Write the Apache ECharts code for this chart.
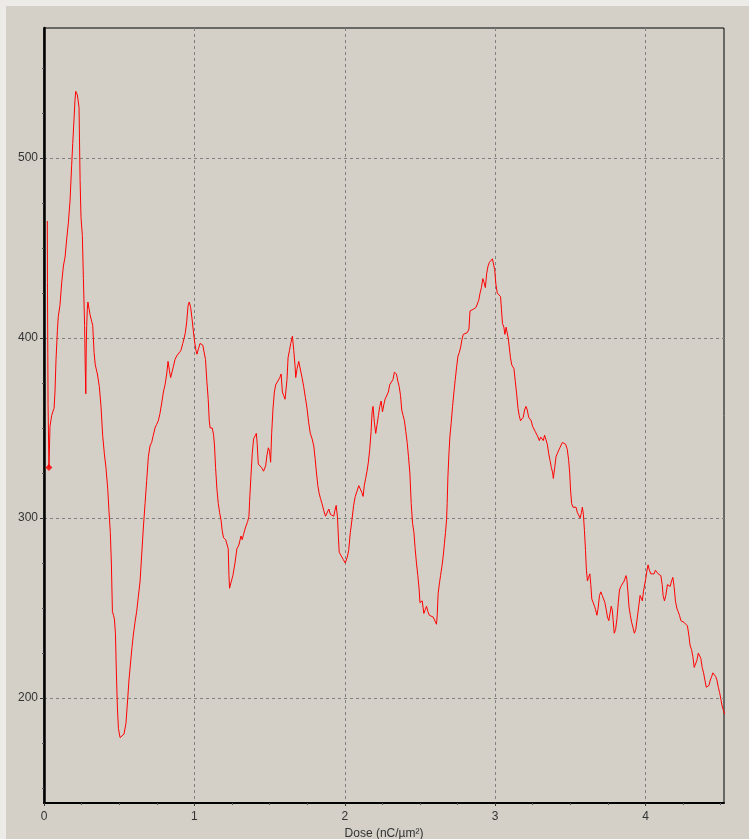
<!DOCTYPE html>
<html>
<head>
<meta charset="utf-8">
<script src="https://cdn.jsdelivr.net/npm/echarts@6/dist/echarts.min.js"></script>
<style>
  html, body { margin: 0; padding: 0; background: #D4D0C8; overflow: hidden; }
  #chart { position: absolute; left: 0; top: 0; width: 749px; height: 839px; }
</style>
</head>
<body>
<div id="chart"></div>
<script>
// Dose axis positions (nC/µm²) of the measured profile
const dose = [
  0.022, 0.023, 0.027, 0.033, 0.040, 0.051, 0.067, 0.073, 0.080, 0.089,
  0.095, 0.106, 0.118, 0.129, 0.140, 0.151, 0.162, 0.173, 0.184, 0.191,
  0.200, 0.206, 0.211, 0.216, 0.222, 0.229, 0.233, 0.237, 0.240, 0.246,
  0.255, 0.262, 0.270, 0.274, 0.278, 0.281, 0.284, 0.288, 0.292, 0.306,
  0.318, 0.324, 0.333, 0.341, 0.355, 0.368, 0.379, 0.390, 0.401, 0.412,
  0.424, 0.432, 0.441, 0.448, 0.455, 0.462, 0.468, 0.475, 0.481, 0.488,
  0.495, 0.506, 0.519, 0.532, 0.545, 0.557, 0.565, 0.576, 0.585, 0.594,
  0.605, 0.616, 0.627, 0.639, 0.650, 0.661, 0.672, 0.683, 0.694, 0.705,
  0.716, 0.727, 0.738, 0.749, 0.760, 0.771, 0.783, 0.794, 0.805, 0.816,
  0.825, 0.834, 0.842, 0.851, 0.860, 0.871, 0.882, 0.895, 0.910, 0.923,
  0.932, 0.940, 0.949, 0.958, 0.966, 0.975, 0.984, 0.993, 1.003, 1.011,
  1.017, 1.027, 1.038, 1.056, 1.065, 1.074, 1.083, 1.092, 1.099, 1.105,
  1.112, 1.119, 1.128, 1.134, 1.141, 1.150, 1.159, 1.168, 1.177, 1.185,
  1.194, 1.208, 1.219, 1.225, 1.230, 1.234, 1.243, 1.256, 1.270, 1.283,
  1.296, 1.310, 1.318, 1.327, 1.341, 1.354, 1.363, 1.367, 1.376, 1.385,
  1.394, 1.403, 1.412, 1.418, 1.425, 1.434, 1.447, 1.460, 1.474, 1.483,
  1.492, 1.500, 1.507, 1.514, 1.523, 1.532, 1.541, 1.554, 1.568, 1.577,
  1.585, 1.594, 1.603, 1.612, 1.616, 1.623, 1.632, 1.641, 1.652, 1.661,
  1.670, 1.674, 1.683, 1.694, 1.705, 1.716, 1.727, 1.738, 1.749, 1.760,
  1.771, 1.783, 1.794, 1.803, 1.812, 1.821, 1.829, 1.838, 1.849, 1.861,
  1.872, 1.883, 1.894, 1.905, 1.916, 1.927, 1.934, 1.943, 1.952, 1.958,
  1.963, 1.976, 1.990, 2.003, 2.016, 2.026, 2.037, 2.048, 2.059, 2.070,
  2.082, 2.093, 2.104, 2.115, 2.122, 2.130, 2.139, 2.148, 2.157, 2.166,
  2.175, 2.182, 2.188, 2.197, 2.206, 2.215, 2.224, 2.233, 2.242, 2.251,
  2.260, 2.268, 2.281, 2.290, 2.299, 2.312, 2.321, 2.330, 2.337, 2.344,
  2.353, 2.362, 2.371, 2.379, 2.388, 2.397, 2.406, 2.415, 2.424, 2.433,
  2.442, 2.451, 2.460, 2.468, 2.477, 2.486, 2.495, 2.500, 2.508, 2.515,
  2.526, 2.535, 2.544, 2.553, 2.562, 2.575, 2.588, 2.599, 2.610, 2.615,
  2.621, 2.630, 2.637, 2.646, 2.655, 2.663, 2.670, 2.677, 2.681, 2.686,
  2.693, 2.699, 2.708, 2.717, 2.726, 2.735, 2.744, 2.753, 2.762, 2.771,
  2.779, 2.788, 2.801, 2.815, 2.826, 2.833, 2.841, 2.855, 2.873, 2.882,
  2.891, 2.900, 2.909, 2.918, 2.926, 2.935, 2.944, 2.953, 2.962, 2.971,
  2.982, 2.990, 2.997, 3.005, 3.014, 3.027, 3.036, 3.042, 3.049, 3.058,
  3.065, 3.073, 3.080, 3.087, 3.094, 3.102, 3.111, 3.125, 3.134, 3.143,
  3.152, 3.160, 3.169, 3.178, 3.187, 3.196, 3.205, 3.214, 3.223, 3.231,
  3.240, 3.249, 3.258, 3.267, 3.276, 3.285, 3.294, 3.303, 3.312, 3.320,
  3.329, 3.338, 3.347, 3.356, 3.365, 3.374, 3.383, 3.387, 3.396, 3.405,
  3.414, 3.425, 3.436, 3.447, 3.458, 3.469, 3.480, 3.489, 3.496, 3.502,
  3.509, 3.518, 3.529, 3.538, 3.547, 3.556, 3.565, 3.574, 3.580, 3.587,
  3.594, 3.601, 3.607, 3.614, 3.621, 3.630, 3.636, 3.643, 3.652, 3.661,
  3.668, 3.677, 3.685, 3.694, 3.703, 3.712, 3.721, 3.730, 3.739, 3.747,
  3.756, 3.765, 3.772, 3.779, 3.785, 3.792, 3.801, 3.810, 3.819, 3.827,
  3.836, 3.847, 3.858, 3.870, 3.876, 3.883, 3.890, 3.899, 3.908, 3.917,
  3.926, 3.935, 3.946, 3.955, 3.964, 3.973, 3.979, 3.986, 3.995, 4.001,
  4.008, 4.017, 4.026, 4.035, 4.046, 4.057, 4.066, 4.075, 4.084, 4.093,
  4.102, 4.111, 4.117, 4.126, 4.135, 4.146, 4.155, 4.164, 4.173, 4.182,
  4.190, 4.199, 4.208, 4.217, 4.226, 4.235, 4.246, 4.257, 4.268, 4.279,
  4.288, 4.297, 4.306, 4.315, 4.324, 4.333, 4.342, 4.351, 4.360, 4.368,
  4.377, 4.386, 4.395, 4.404, 4.413, 4.422, 4.431, 4.440, 4.448, 4.457,
  4.466, 4.475, 4.484, 4.493, 4.502, 4.511, 4.519, 4.527
];

// Measured signal at each dose position
const signal = [
  465, 431, 363, 328, 351, 357, 361, 370, 388, 404,
  412, 418, 431, 440, 445, 455, 464, 476, 496, 508,
  522, 532, 537, 536, 535, 535, 528, 505, 488, 467,
  457, 433, 407, 385, 369, 395, 407, 416, 420, 413,
  409, 407, 392, 385, 380, 373, 362, 346, 336, 328,
  316, 304, 292, 275, 248, 246, 244, 236, 215, 195,
  183, 178, 178, 180, 186, 200, 210, 220, 228, 235,
  242, 248, 256, 265, 280, 295, 308, 321, 334, 340,
  342, 346, 350, 352, 354, 358, 364, 370, 374, 380,
  387, 382, 378, 379, 384, 388, 390, 391, 393, 397,
  400, 403, 409, 418, 420, 417, 411, 404, 397, 393,
  391, 394, 397, 396, 397, 388, 376, 366, 354, 350,
  349, 350, 346, 340, 328, 316, 308, 303, 299, 293,
  289, 288, 287, 283, 268, 261, 264, 268, 275, 283,
  285, 290, 288, 291, 295, 298, 301, 309, 323, 336,
  344, 345, 347, 341, 330, 330, 328, 326, 329, 335,
  339, 337, 331, 347, 361, 370, 374, 375, 378, 380,
  370, 368, 366, 367, 377, 389, 393, 397, 401, 393,
  384, 378, 383, 387, 386, 378, 373, 367, 361, 353,
  347, 344, 340, 333, 325, 318, 314, 311, 308, 304,
  301, 301, 305, 302, 301, 301, 304, 307, 300, 289,
  281, 279, 277, 275, 278, 282, 292, 299, 307, 312,
  315, 318, 318, 314, 312, 318, 322, 326, 331, 338,
  348, 359, 362, 353, 347, 352, 357, 362, 365, 359,
  363, 366, 366, 370, 374, 374, 377, 381, 382, 380,
  376, 373, 368, 360, 357, 354, 348, 342, 334, 325,
  308, 297, 292, 283, 275, 268, 260, 253, 252, 254,
  247, 249, 251, 248, 246, 246, 245, 244, 241, 246,
  258, 264, 268, 273, 279, 286, 292, 299, 308, 323,
  336, 345, 353, 362, 370, 377, 384, 390, 392, 395,
  399, 402, 402, 403, 405, 415, 415, 416, 417, 418,
  421, 425, 428, 433, 431, 428, 436, 440, 442, 443,
  444, 443, 438, 430, 425, 424, 423, 416, 408, 406,
  402, 406, 407, 400, 395, 389, 385, 383, 376, 369,
  361, 357, 354, 353, 356, 360, 362, 360, 356, 355,
  354, 351, 350, 348, 347, 345, 343, 345, 344, 343,
  346, 347, 341, 336, 332, 328, 325, 322, 328, 334,
  336, 338, 340, 342, 343, 341, 338, 332, 325, 315,
  308, 306, 307, 306, 303, 302, 300, 303, 306, 302,
  293, 282, 271, 265, 267, 269, 263, 255, 253, 251,
  249, 246, 250, 257, 259, 257, 256, 253, 249, 245,
  243, 242, 251, 249, 243, 236, 238, 244, 253, 260,
  262, 263, 265, 268, 266, 259, 251, 246, 242, 239,
  236, 238, 245, 251, 257, 258, 254, 259, 260, 266,
  270, 274, 271, 269, 269, 269, 271, 271, 269, 269,
  268, 263, 257, 254, 257, 263, 262, 262, 265, 267,
  262, 254, 250, 248, 246, 243, 242, 242, 241, 240,
  235, 229, 227, 223, 217, 217, 221, 225, 225, 222,
  217, 214, 210, 206, 205, 207, 210, 212, 214, 214,
  212, 210, 206, 203, 199, 195, 193, 191
];

// Highlighted (cursor) point
const cursorPoint = [0.033, 328];

// Axis ranges and tick positions
const doseRange = [0, 4.522];
const signalRange = [141.7, 572.2];
const doseMajorTicks = [0, 1, 2, 3, 4];
const doseMinorTicks = [0.25, 0.5, 0.75, 1.25, 1.5, 1.75, 2.25, 2.5, 2.75, 3.25, 3.5, 3.75, 4.25, 4.5];
const signalMajorTicks = [200, 300, 400, 500];
const signalMinorTicks = [150, 175, 225, 250, 275, 325, 350, 375, 425, 450, 475, 525, 550];

const FONT = '"Liberation Sans", Arial, sans-serif';
const TEXT = '#333333';
const BG = '#D4D0C8';
const EDGE = '#EDEBE7';

const chart = echarts.init(document.getElementById('chart'), null, { renderer: 'canvas', width: 749, height: 839 });

const lineData = dose.map((d, i) => [d, signal[i]]);

chart.setOption({
  animation: false,
  backgroundColor: BG,
  textStyle: { fontFamily: FONT },
  // light window edge along the top and left
  graphic: [
    { type: 'rect', left: 0, top: 0, shape: { width: 749, height: 6 }, style: { fill: EDGE }, silent: true, z: -1 },
    { type: 'rect', left: 0, top: 0, shape: { width: 6, height: 839 }, style: { fill: EDGE }, silent: true, z: -1 }
  ],
  grid: {
    left: 44, right: 25, top: 28, bottom: 36,
    outerBoundsMode: 'none',
    containLabel: false,
    show: true, borderColor: '#000', borderWidth: 1, backgroundColor: 'transparent'
  },
  xAxis: [
    {
      type: 'value',
      min: doseRange[0], max: doseRange[1],
      name: 'Dose (nC/µm²)',
      nameLocation: 'middle',
      nameGap: 23,
      nameTextStyle: { color: TEXT, fontSize: 12, fontFamily: FONT },
      axisLine: { show: true, lineStyle: { color: '#000', width: 2 } },
      axisTick: { show: true, customValues: doseMajorTicks, length: 3, lineStyle: { color: '#333', width: 1 } },
      axisLabel: { customValues: doseMajorTicks, color: TEXT, fontSize: 12, margin: 8, fontFamily: FONT },
      splitLine: { show: true, lineStyle: { color: '#808080', type: [3, 3], width: 1 } }
    },
    {
      type: 'value',
      position: 'bottom',
      min: doseRange[0], max: doseRange[1],
      axisLine: { show: false },
      axisTick: { show: true, customValues: doseMinorTicks, length: 2, lineStyle: { color: '#555', width: 1 } },
      axisLabel: { show: false },
      splitLine: { show: false }
    }
  ],
  yAxis: [
    {
      type: 'value',
      min: signalRange[0], max: signalRange[1],
      axisLine: { show: true, lineStyle: { color: '#000', width: 2.5 } },
      axisTick: { show: true, customValues: signalMajorTicks, length: 4, lineStyle: { color: '#333', width: 1 } },
      axisLabel: { customValues: signalMajorTicks, color: TEXT, fontSize: 12, margin: 6, fontFamily: FONT },
      splitLine: { show: true, lineStyle: { color: '#808080', type: [3, 3], width: 1 } }
    },
    {
      type: 'value',
      position: 'left',
      min: signalRange[0], max: signalRange[1],
      axisLine: { show: false },
      axisTick: { show: true, customValues: signalMinorTicks, length: 2, lineStyle: { color: '#555', width: 1 } },
      axisLabel: { show: false },
      splitLine: { show: false }
    }
  ],
  series: [
    {
      type: 'line',
      xAxisIndex: 0, yAxisIndex: 0,
      data: lineData,
      showSymbol: false,
      lineStyle: { color: '#FF0000', width: 1 },
      silent: true,
      z: 3
    },
    {
      type: 'scatter',
      xAxisIndex: 0, yAxisIndex: 0,
      data: [cursorPoint],
      symbol: 'diamond',
      symbolSize: 7,
      itemStyle: { color: '#FF0000' },
      silent: true,
      z: 4
    }
  ]
});
</script>
</body>
</html>
